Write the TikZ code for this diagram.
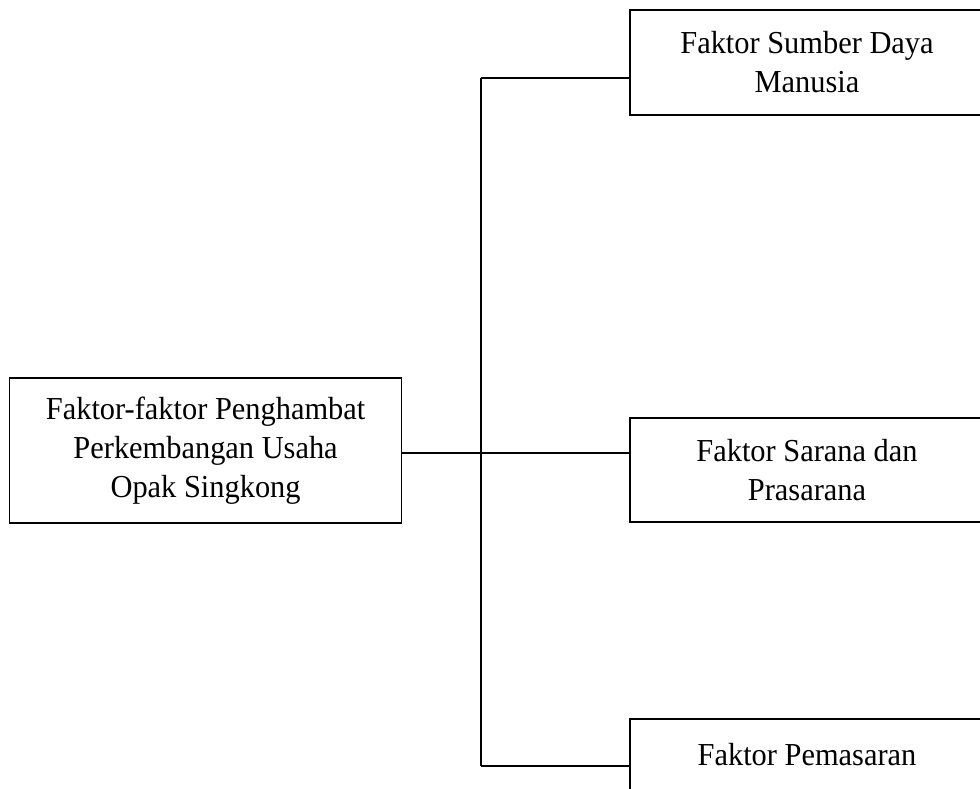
\documentclass[tikz,border=0pt]{standalone}
\usepackage{fontspec}
\setmainfont{Liberation Serif}[FakeStretch=0.95]
\begin{document}
\begin{tikzpicture}[x=1pt,y=-1pt,
  fbox/.style={draw=black, line width=1.3pt, align=center, inner sep=0pt,
    font=\fontsize{32}{39}\selectfont},
  conn/.style={draw=black, line width=1.3pt}]
\useasboundingbox (0,0) rectangle (980,788);
\clip (0,0) rectangle (980,788);
\fill[white] (0,0) rectangle (980,788);
\node[fbox, minimum width=392pt, minimum height=145pt] (root) at (205.6,450.5)
  {Faktor-faktor Penghambat\\Perkembangan Usaha\\Opak Singkong};
\node[fbox, minimum width=354pt, minimum height=105pt] (sdm) at (807,62.5)
  {Faktor Sumber Daya\\Manusia};
\node[fbox, minimum width=354pt, minimum height=104pt] (sar) at (807,470)
  {Faktor Sarana dan\\Prasarana};
\node[fbox, minimum width=354pt, minimum height=72pt] (pem) at (807,755)
  {Faktor Pemasaran};
\coordinate (j1) at (481,78);
\coordinate (j2) at (481,453);
\coordinate (j3) at (481,766);
\draw[conn] (j1) -- (j3);
\draw[conn] (root.east |- j2) -- (sar.west |- j2);
\draw[conn] (j1) -- (sdm.west |- j1);
\draw[conn] (j3) -- (pem.west |- j3);
\end{tikzpicture}
\end{document}
